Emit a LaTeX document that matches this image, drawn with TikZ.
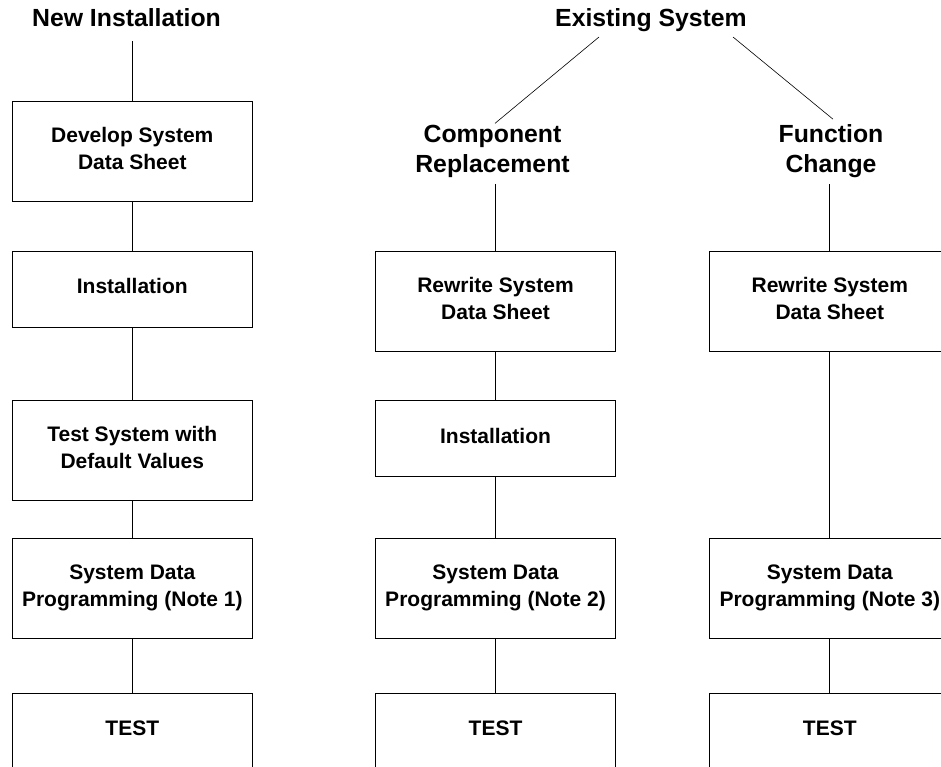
\documentclass[tikz,border=0pt]{standalone}
\usepackage{fontspec}
\setmainfont{Liberation Sans}
\usetikzlibrary{calc}
\begin{document}
\begin{tikzpicture}[x=1pt,y=-1pt,
  stepbox/.style={draw,line width=1pt,minimum width=240pt,inner sep=0pt,align=center,
    text depth=6pt,font=\fontsize{21}{27}\selectfont\bfseries},
  head/.style={inner sep=0pt,align=center,font=\fontsize{24.8}{30}\selectfont\bfseries},
  link/.style={line width=1pt},
  diag/.style={line width=0.6pt}]
\useasboundingbox (0,0) rectangle (941,767);
% headings
\node[head,anchor=base] (ni) at (126.5,27) {New Installation};
\node[head,anchor=base] (es) at (651,27) {Existing System};
\node[head] (cr) at (492.5,151.5) {Component\\Replacement};
\node[head] (fc) at (831,151.5) {Function\\Change};
% left column
\node[stepbox,minimum height=100pt] (b1) at (132.3,151.3) {Develop System\\Data Sheet};
\node[stepbox,minimum height=76pt] (b2) at (132.3,289.3) {Installation};
\node[stepbox,minimum height=100pt] (b3) at (132.3,450.2) {Test System with\\Default Values};
\node[stepbox,minimum height=100pt] (b4) at (132.3,588.3) {System Data\\Programming (Note 1)};
\node[stepbox,minimum height=76pt] (b5) at (132.3,731.3) {TEST};
% middle column
\node[stepbox,minimum height=100pt] (m1) at (495.5,301.2) {Rewrite System\\Data Sheet};
\node[stepbox,minimum height=76pt] (m2) at (495.5,438.5) {Installation};
\node[stepbox,minimum height=100pt] (m3) at (495.5,588.3) {System Data\\Programming (Note 2)};
\node[stepbox,minimum height=76pt] (m4) at (495.5,731.3) {TEST};
% right column
\node[stepbox,minimum height=100pt] (r1) at (829.8,301.2) {Rewrite System\\Data Sheet};
\node[stepbox,minimum height=100pt] (r2) at (829.8,588.3) {System Data\\Programming (Note 3)};
\node[stepbox,minimum height=76pt] (r3) at (829.8,731.3) {TEST};
% connectors
\draw[link,shorten <=13.7pt] (b1.north |- ni.south) -- (b1.north);
\draw[link] (b1) -- (b2);
\draw[link] (b2) -- (b3);
\draw[link] (b3) -- (b4);
\draw[link] (b4) -- (b5);
\draw[link,shorten <=6pt] (m1.north |- cr.south) -- (m1.north);
\draw[link] (m1) -- (m2);
\draw[link] (m2) -- (m3);
\draw[link] (m3) -- (m4);
\draw[link,shorten <=6pt] (r1.north |- fc.south) -- (r1.north);
\draw[link] (r1) -- (r2);
\draw[link] (r2) -- (r3);
\draw[diag] ($(es.base)+(-52,10)$) -- ($(cr.north)+(2.5,-1.7)$);
\draw[diag] ($(es.base)+(82,10)$) -- ($(fc.north)+(2,-5.5)$);
\end{tikzpicture}
\end{document}
